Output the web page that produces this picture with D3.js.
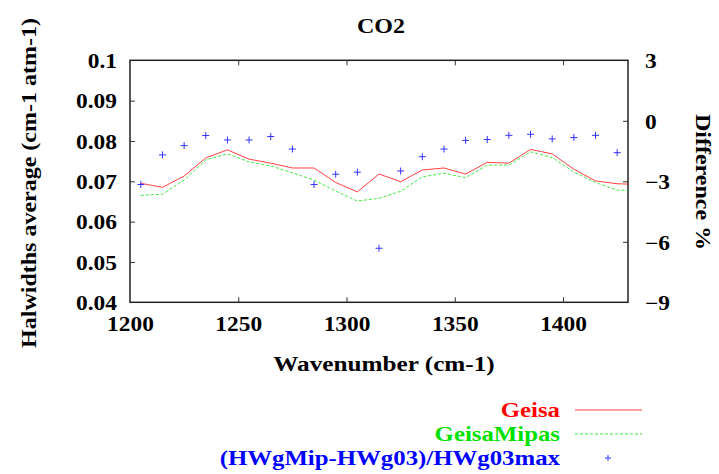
<!DOCTYPE html>
<html><head><meta charset="utf-8">
<script src="https://cdn.jsdelivr.net/npm/d3@7"></script>
<style>
html,body{margin:0;padding:0;background:#fff;}
svg text{font-family:"Liberation Serif","Times New Roman",serif;font-weight:bold;}
</style></head>
<body><svg id="c" width="719" height="474"></svg>
<script>
const wavenumbers = [1205,1215,1225,1235,1245,1255,1265,1275,1285,1295,1305,1315,1325,1335,1345,1355,1365,1375,1385,1395,1405,1415,1425,1435];
const geisa = [0.0695,0.0685,0.0713,0.0758,0.0778,0.0755,0.0745,0.0733,0.0733,0.0697,0.0674,0.0718,0.0699,0.0728,0.0733,0.0718,0.0747,0.0745,0.0779,0.0768,0.0730,0.0701,0.0694,0.0692];
const geisaMipas = [0.0665,0.0668,0.0703,0.0753,0.0768,0.0748,0.0738,0.0721,0.0703,0.0676,0.0651,0.0658,0.0675,0.0711,0.0720,0.0709,0.0740,0.0740,0.0773,0.0759,0.0723,0.0697,0.0678,0.0677];
const diffPct = [-3.16,-1.69,-1.23,-0.73,-0.95,-0.95,-0.78,-1.40,-3.16,-2.65,-2.55,-6.32,-2.49,-1.78,-1.40,-0.97,-0.93,-0.72,-0.67,-0.90,-0.83,-0.72,-1.58,null];
const xTicks = [1200,1250,1300,1350,1400];
const yLeftTicks = [0.04,0.05,0.06,0.07,0.08,0.09,0.1];
const yRightTicks = [-9,-6,-3,0,3];
const seriesNames = ["Geisa","GeisaMipas","(HWgMip-HWg03)/HWg03max"];
const seriesColors = ["#ff0000","#00e000","#0000ff"];

const L=130, R=628, T=60.3, B=302.3;
const svg = d3.select("#c");
const x = d3.scaleLinear().domain([1200,1430]).range([L,R]);
const yL = d3.scaleLinear().domain([0.04,0.1]).range([B,T]);
const yR = d3.scaleLinear().domain([-9,3]).range([B,T]);

function stretch(sel, k){
  sel.each(function(){ const w=this.getComputedTextLength(); d3.select(this).attr("textLength", w*k).attr("lengthAdjust","spacingAndGlyphs"); });
}

svg.append("defs").append("clipPath").attr("id","clip").append("rect").attr("x",L).attr("y",T).attr("width",R-L).attr("height",B-T);

// axes
const fmtL = d => d===0.1 ? "0.1" : d3.format(".2f")(d);
const axL = svg.append("g").attr("transform",`translate(${L},0)`).call(d3.axisLeft(yL).tickValues(yLeftTicks).tickFormat(fmtL).tickSizeInner(-5).tickSizeOuter(0).tickPadding(13));
const axR = svg.append("g").attr("transform",`translate(${R},0)`).call(d3.axisRight(yR).tickValues(yRightTicks).tickFormat(d3.format("d")).tickSizeInner(-5).tickSizeOuter(0).tickPadding(17));
const axB = svg.append("g").attr("transform",`translate(0,${B})`).call(d3.axisBottom(x).tickValues(xTicks).tickFormat(d3.format("d")).tickSizeInner(-5).tickSizeOuter(0).tickPadding(14));
const axT = svg.append("g").attr("transform",`translate(0,${T})`).call(d3.axisTop(x).tickValues(xTicks).tickFormat("").tickSizeInner(-5).tickSizeOuter(0));
[axL,axR,axB,axT].forEach(a=>{ a.select(".domain").remove(); a.selectAll(".tick line").attr("stroke","#333").attr("stroke-width",1); a.selectAll("text").attr("font-size",20).attr("fill","#000"); });
axL.selectAll(".tick text").attr("dy","0.36em");
axR.selectAll(".tick text").attr("dy","0.36em");
axB.selectAll(".tick text").attr("dy","0.72em");
[axL,axR,axB].forEach(a=>stretch(a.selectAll(".tick text"),1.17));
axL.selectAll(".tick").filter(d=>d===0.04||d===0.1).select("line").remove();
axR.selectAll(".tick").filter(d=>d===-9||d===3).select("line").remove();
axB.selectAll(".tick").filter(d=>d===1200).select("line").remove();
axT.selectAll(".tick").filter(d=>d===1200).select("line").remove();

svg.append("rect").attr("x",L).attr("y",T).attr("width",R-L).attr("height",B-T).attr("fill","none").attr("stroke","#222").attr("stroke-width",1.5);

// lines
const g = svg.append("g").attr("clip-path","url(#clip)");
const lineGen = vals => d3.line().x((d,i)=>x(wavenumbers[i])).y(d=>yL(d))(vals);
g.append("path").attr("d",lineGen(geisa)).attr("fill","none").attr("stroke",seriesColors[0]).attr("stroke-width",1).attr("opacity",0.75);
g.append("path").attr("d",lineGen(geisaMipas)).attr("fill","none").attr("stroke",seriesColors[1]).attr("stroke-width",1).attr("stroke-dasharray","3,2").attr("opacity",0.75);
const pts = wavenumbers.map((w,i)=>({w,v:diffPct[i]})).filter(d=>d.v!==null);
g.selectAll("path.cross").data(pts).join("path").attr("class","cross")
  .attr("d",d=>{const cx=x(d.w), cy=yR(d.v); return `M${cx-3.5},${cy}H${cx+3.5}M${cx},${cy-3.5}V${cy+3.5}`;})
  .attr("stroke",seriesColors[2]).attr("stroke-width",1).attr("opacity",0.8);

// titles
svg.append("text").attr("x",381).attr("y",33).attr("text-anchor","middle").attr("font-size",20).text("CO2").call(s=>stretch(s,1.2));
svg.append("text").attr("x",384).attr("y",371).attr("text-anchor","middle").attr("font-size",20).text("Wavenumber (cm-1)").call(s=>stretch(s,1.26));
svg.append("text").attr("transform","translate(36,183) rotate(-90)").attr("text-anchor","middle").attr("font-size",20).text("Halwidths average (cm-1 atm-1)").call(s=>stretch(s,1.2));
svg.append("text").attr("transform","translate(696,182) rotate(90)").attr("text-anchor","middle").attr("font-size",20).text("Difference %").call(s=>stretch(s,1.2));

// legend
const legY = [410,434,458];
seriesNames.forEach((n,i)=>{
  svg.append("text").attr("x",560).attr("y",legY[i]).attr("dy","0.35em").attr("text-anchor","end").attr("font-size",20).attr("fill",seriesColors[i]).text(n).call(s=>stretch(s,1.24));
});
svg.append("line").attr("x1",575).attr("x2",642).attr("y1",legY[0]).attr("y2",legY[0]).attr("stroke",seriesColors[0]).attr("opacity",0.75);
svg.append("line").attr("x1",575).attr("x2",642).attr("y1",legY[1]).attr("y2",legY[1]).attr("stroke",seriesColors[1]).attr("stroke-dasharray","3,2").attr("opacity",0.75);
svg.append("path").attr("d",`M605,${legY[2]}H611M608,${legY[2]-3}V${legY[2]+3}`).attr("stroke",seriesColors[2]).attr("opacity",0.8);
</script></body></html>
